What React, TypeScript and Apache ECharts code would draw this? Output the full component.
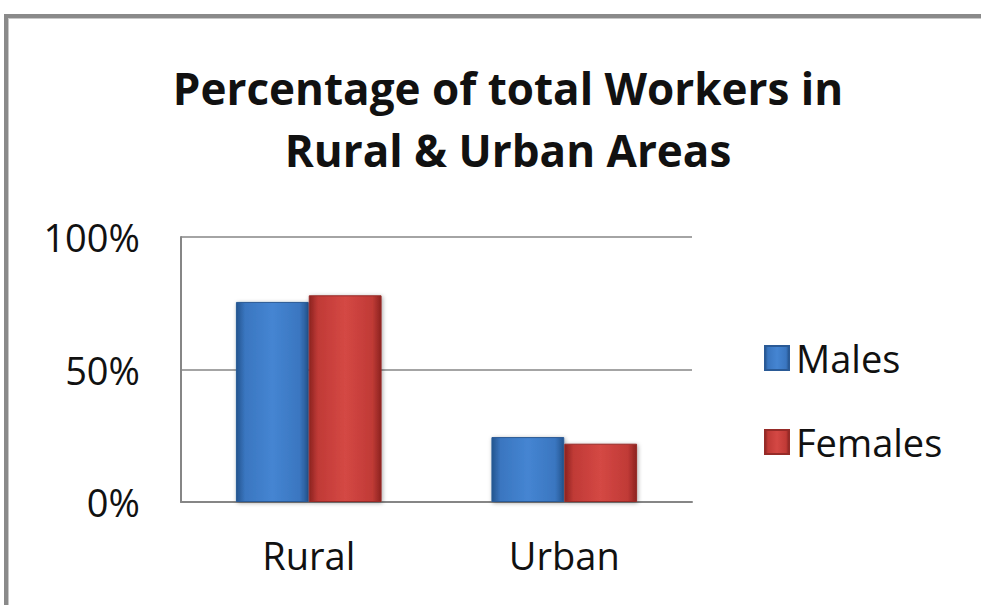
import React, { useEffect, useRef } from "react";
import * as echarts from "echarts";

const categories = ["Rural", "Urban"];
const malesValues = [75.5, 24.5];
const femalesValues = [78, 22];
const seriesNames = ["Males", "Females"];
const yTicks = [0, 50, 100];

const FONT = "'Open Sans', Lato, sans-serif";

function grad(dark: string, mid: string, light: string) {
  return new echarts.graphic.LinearGradient(0, 0, 1, 0, [
    { offset: 0, color: dark },
    { offset: 0.12, color: mid },
    { offset: 0.5, color: light },
    { offset: 0.88, color: mid },
    { offset: 1, color: dark },
  ]);
}

export default function App() {
  const ref = useRef<HTMLDivElement>(null);
  useEffect(() => {
    if (!ref.current) return;
    const chart = echarts.init(ref.current, undefined, { renderer: "svg" });
    chart.setOption({
      animation: false,
      backgroundColor: "#ffffff",
      title: {
        text: "Percentage of total Workers in\nRural & Urban Areas",
        left: 503,
        textAlign: "center",
        top: 52,
        textStyle: {
          fontFamily: FONT,
          fontSize: 44,
          fontWeight: "bold",
          color: "#111",
          lineHeight: 62,
        },
      },
      legend: {
        orient: "vertical",
        left: 759,
        top: 334,
        itemGap: 46,
        itemWidth: 24,
        itemHeight: 24,
        icon: "rect",
        data: seriesNames,
        textStyle: { fontFamily: FONT, fontSize: 38, color: "#111", padding: [0, 0, 0, 2] },
      },
      grid: { left: 181, top: 237, width: 511, height: 265, containLabel: false },
      xAxis: {
        type: "category",
        data: categories,
        axisLine: { lineStyle: { color: "#868686", width: 2 } },
        axisTick: { show: false },
        axisLabel: { fontFamily: FONT, fontSize: 38, color: "#111", margin: 34 },
      },
      yAxis: {
        type: "value",
        min: 0,
        max: 100,
        interval: 50,
        axisLine: { show: true, lineStyle: { color: "#868686", width: 2 } },
        axisTick: { show: false },
        splitLine: { lineStyle: { color: "#868686", width: 1.5 } },
        axisLabel: {
          fontFamily: FONT,
          fontSize: 38,
          color: "#111",
          margin: 41,
          formatter: (v: number) => (yTicks.includes(v) ? v + "%" : ""),
        },
      },
      series: [
        {
          name: seriesNames[0],
          type: "bar",
          data: malesValues,
          barGap: "0%",
          barCategoryGap: "43%",
          color: "#3b78c4",
          itemStyle: {
            color: grad("#24558f", "#3a76c0", "#4585d2"),
            borderColor: "#2a5a96",
            borderWidth: 1,
            shadowColor: "rgba(0,0,0,0.35)",
            shadowBlur: 4,
            shadowOffsetX: 1,
            shadowOffsetY: 1,
          },
        },
        {
          name: seriesNames[1],
          type: "bar",
          data: femalesValues,
          color: "#c43c38",
          itemStyle: {
            color: grad("#8c2320", "#c03a36", "#d44844"),
            borderColor: "#962b28",
            borderWidth: 1,
            shadowColor: "rgba(0,0,0,0.35)",
            shadowBlur: 4,
            shadowOffsetX: 1,
            shadowOffsetY: 1,
          },
        },
      ],
      graphic: [
        { type: "rect", shape: { x: 4, y: 14, width: 981, height: 4 }, style: { fill: "#8a8a8a" } },
        { type: "rect", shape: { x: 4, y: 14, width: 4, height: 600 }, style: { fill: "#8a8a8a" } },
        { type: "rect", shape: { x: 8, y: 18, width: 981, height: 1 }, style: { fill: "#c8c8c8" } },
        { type: "rect", shape: { x: 8, y: 18, width: 1, height: 600 }, style: { fill: "#c8c8c8" } },
      ],
    });
    return () => chart.dispose();
  }, []);
  return (
    <div
      ref={ref}
      style={{ position: "fixed", left: 0, top: 0, width: 981, height: 605 }}
    />
  );
}
